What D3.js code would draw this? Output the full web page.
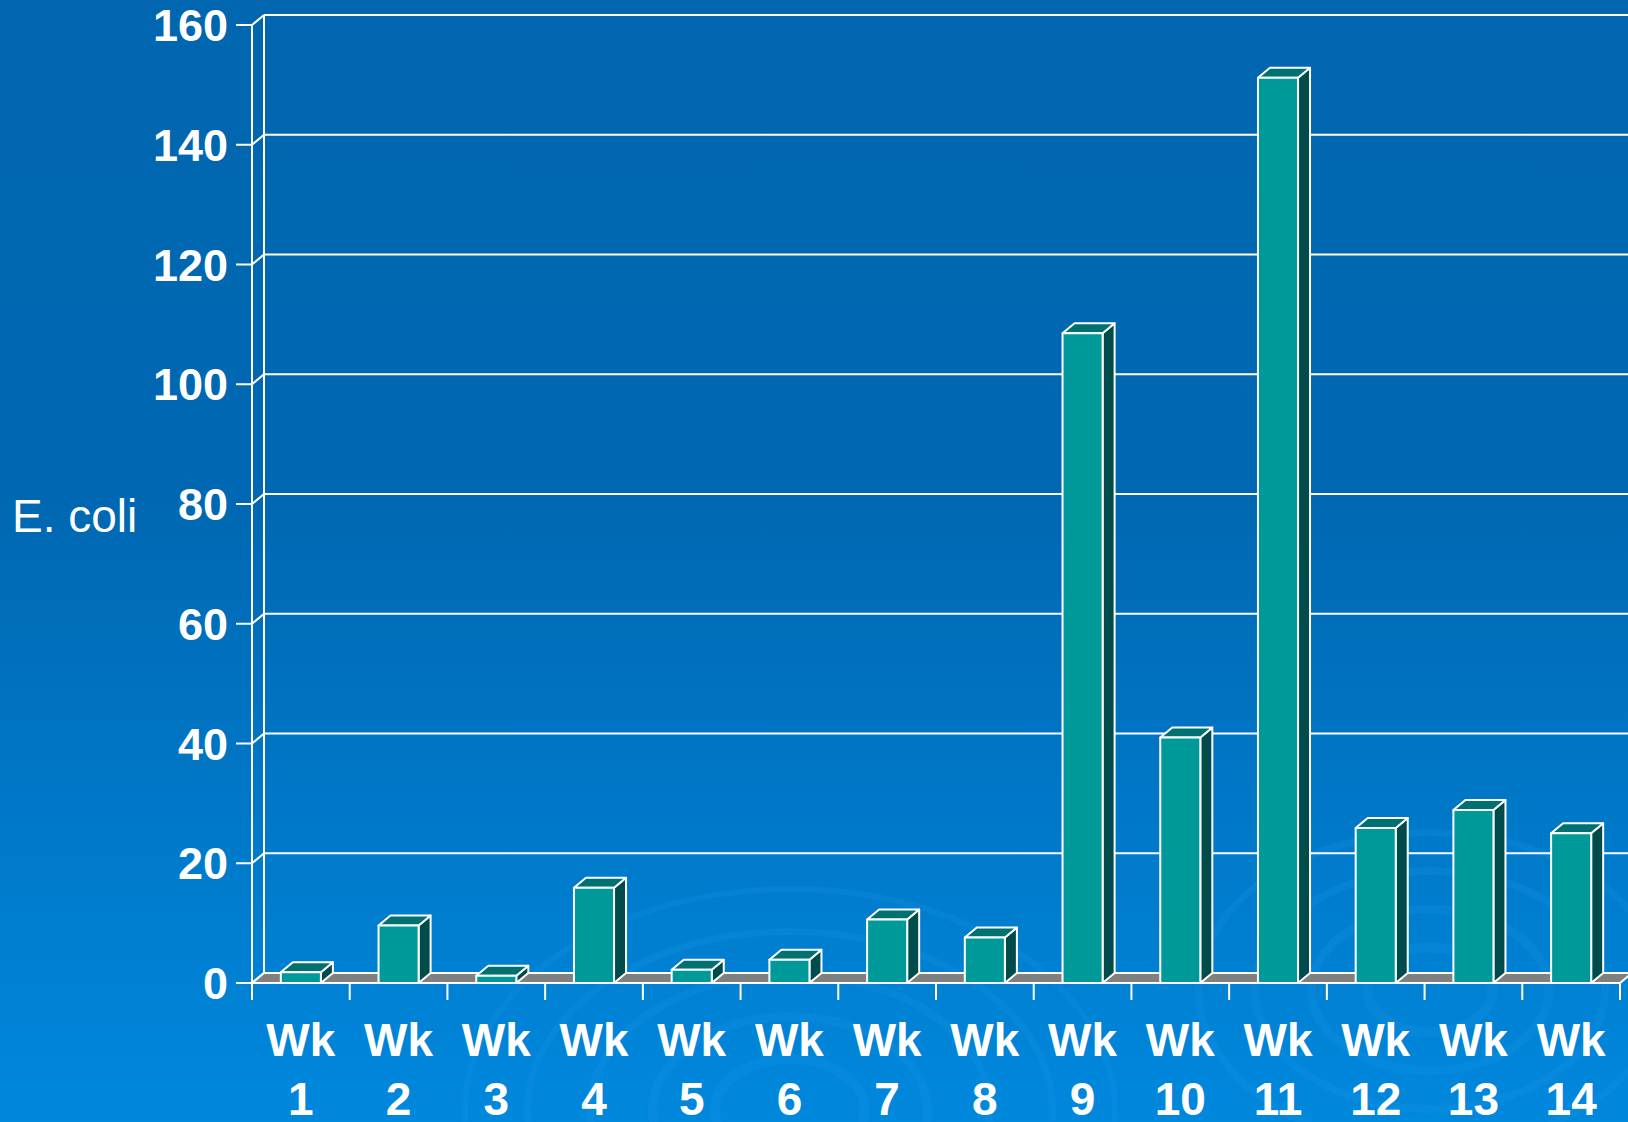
<!DOCTYPE html>
<html>
<head>
<meta charset="utf-8">
<script src="https://cdn.jsdelivr.net/npm/d3@7"></script>
<style>
  html, body { margin: 0; padding: 0; background: #0066AF; }
  svg { display: block; }
</style>
</head>
<body>
<svg id="chart" width="1628" height="1122"></svg>
<script>
const categories = ["Wk 1","Wk 2","Wk 3","Wk 4","Wk 5","Wk 6","Wk 7","Wk 8","Wk 9","Wk 10","Wk 11","Wk 12","Wk 13","Wk 14"];
const values = [1.8, 9.6, 1.2, 15.9, 2.2, 3.9, 10.6, 7.6, 108.5, 41, 151.2, 25.9, 28.9, 25];
const yTicks = [0, 20, 40, 60, 80, 100, 120, 140, 160];
const yTitle = "E. coli";

(function () {
const W = 1628, H = 1122;
const svg = d3.select("#chart");
const pLeft = 252, pRight = 1620, pTop = 25, pBottom = 983;
const dx = 12, dy = 10;

// background
const defs = svg.append("defs");
const grad = defs.append("linearGradient").attr("id", "bg").attr("x1", 0).attr("y1", 0).attr("x2", 0).attr("y2", 1);
grad.append("stop").attr("offset", "0%").attr("stop-color", "#0066AF");
grad.append("stop").attr("offset", "45%").attr("stop-color", "#0068B3");
grad.append("stop").attr("offset", "100%").attr("stop-color", "#0088DD");
svg.append("rect").attr("width", W).attr("height", H).attr("fill", "url(#bg)");

// faint swirls
const sw = svg.append("g").attr("fill", "none").attr("stroke", "#1a95e8").attr("stroke-opacity", 0.22);
[[790, 1110, [60, 110, 160, 210, 260]], [1430, 990, [50, 95, 140, 185]]].forEach(([cx, cy, rs]) => {
  rs.forEach((r, i) => {
    sw.append("ellipse").attr("cx", cx).attr("cy", cy).attr("rx", r * 1.25).attr("ry", r * 0.85)
      .attr("stroke-width", 10 - i);
  });
});

const x = d3.scaleBand().domain(categories).range([pLeft, pRight]).paddingInner(0.59).paddingOuter(0.295);
const xb = d3.scaleBand().domain(categories).range([pLeft, pRight]).padding(0);
const y = d3.scaleLinear().domain([0, 160]).range([pBottom, pTop]);

// back wall gridlines
const grid = svg.append("g").attr("stroke", "#fff").attr("stroke-width", 2).attr("fill", "none");
yTicks.forEach(t => {
  grid.append("line").attr("x1", pLeft + dx).attr("x2", W + 5).attr("y1", y(t) - dy).attr("y2", y(t) - dy);
  grid.append("line").attr("x1", pLeft).attr("x2", pLeft + dx).attr("y1", y(t)).attr("y2", y(t) - dy);
});
grid.append("line").attr("x1", pLeft + dx).attr("x2", pLeft + dx).attr("y1", y(160) - dy).attr("y2", y(0) - dy);

// floor
svg.append("path")
  .attr("d", `M${pLeft},${y(0)} L${pLeft + dx},${y(0) - dy} L${pRight + dx},${y(0) - dy} L${pRight},${y(0)} Z`)
  .attr("fill", "#808080").attr("stroke", "#fff").attr("stroke-width", 2);

// bars
const bars = svg.append("g").attr("stroke", "#fff").attr("stroke-width", 2).attr("stroke-linejoin", "round");
categories.forEach((c, i) => {
  const x0 = x(c), x1 = x0 + x.bandwidth();
  const yt = y(values[i]), yb = y(0);
  const g = bars.append("g");
  g.append("path").attr("fill", "#004C4C")
    .attr("d", `M${x1},${yb} L${x1 + dx},${yb - dy} L${x1 + dx},${yt - dy} L${x1},${yt} Z`);
  g.append("path").attr("fill", "#007070")
    .attr("d", `M${x0},${yt} L${x0 + dx},${yt - dy} L${x1 + dx},${yt - dy} L${x1},${yt} Z`);
  g.append("rect").attr("fill", "#009999")
    .attr("x", x0).attr("y", yt).attr("width", x.bandwidth()).attr("height", yb - yt);
});

// front axes
const ax = svg.append("g").attr("stroke", "#fff").attr("stroke-width", 2);
ax.append("line").attr("x1", pLeft).attr("x2", pLeft).attr("y1", y(160)).attr("y2", y(0) + 17);
ax.append("line").attr("x1", pLeft - 16).attr("x2", pRight).attr("y1", y(0)).attr("y2", y(0));
yTicks.forEach(t => {
  ax.append("line").attr("x1", pLeft - 16).attr("x2", pLeft).attr("y1", y(t)).attr("y2", y(t));
});
categories.forEach(c => {
  const xx = xb(c) + xb.bandwidth();
  ax.append("line").attr("x1", xx).attr("x2", xx).attr("y1", y(0)).attr("y2", y(0) + 17);
});

// y tick labels
svg.append("g").selectAll("text").data(yTicks).join("text")
  .attr("x", pLeft - 24).attr("y", d => y(d) + 16)
  .attr("text-anchor", "end")
  .attr("fill", "#fff")
  .attr("font-family", "Liberation Sans, Arial, sans-serif")
  .attr("font-weight", "bold").attr("font-size", 45)
  .text(d => d);

// x labels (two lines)
const xl = svg.append("g").attr("fill", "#fff")
  .attr("font-family", "Liberation Sans, Arial, sans-serif")
  .attr("font-weight", "bold").attr("font-size", 46).attr("text-anchor", "middle");
categories.forEach(c => {
  const parts = c.split(" ");
  const cx = xb(c) + xb.bandwidth() / 2;
  const t = xl.append("text").attr("x", cx).attr("y", 1056);
  t.append("tspan").attr("x", cx).attr("y", 1056).text(parts[0]);
  t.append("tspan").attr("x", cx).attr("y", 1115).text(parts[1]);
});

// y title
svg.append("text").attr("x", 12).attr("y", 532)
  .attr("fill", "#fff")
  .attr("font-family", "Liberation Sans, Arial, sans-serif")
  .attr("font-size", 46)
  .text(yTitle);
})();
</script>
</body>
</html>
